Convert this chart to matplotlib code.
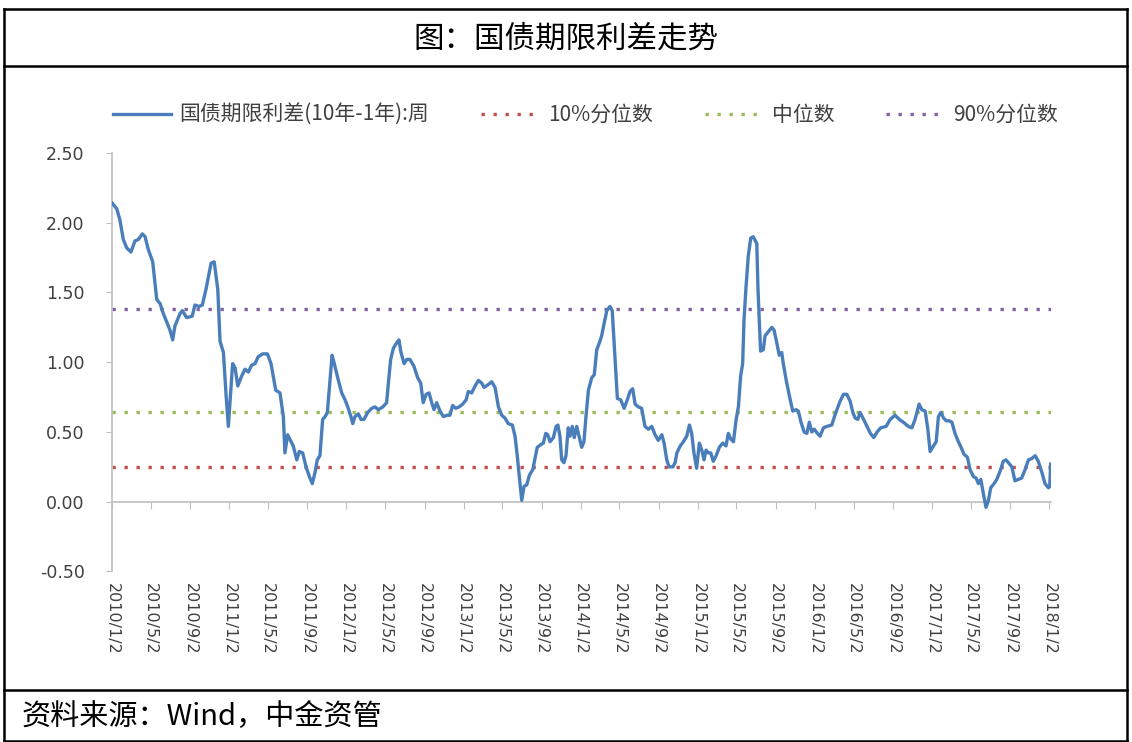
import matplotlib
matplotlib.use('Agg')
import matplotlib.pyplot as plt
import matplotlib.dates as mdates
from matplotlib.lines import Line2D
import numpy as np
import pandas as pd
from datetime import datetime

plt.rcParams['font.family'] = ['Noto Sans CJK SC', 'DejaVu Sans']

# 周数据: 自 2010/1/2 起的周序号, 以及对应的利差(%)
week = [0.0, 2.0, 3.4, 4.9, 6.4, 8.3, 10.1, 11.6, 13.4, 14.6, 16.0, 18.0, 19.8, 21.3, 22.7, 24.2,
        25.7, 26.9, 27.9, 30.2, 31.2, 33.1, 35.6, 36.8, 38.6, 40.1, 41.7, 44.0, 45.4, 47.0, 48.0,
        49.5, 50.7, 51.7, 52.4, 53.6, 54.7, 55.9, 57.6, 59.1, 60.6, 62.1, 63.6, 65.0, 67.0, 69.1,
        70.7, 72.8, 74.7, 76.2, 76.9, 78.1, 80.6, 82.2, 83.3, 84.8, 86.3, 87.8, 89.1, 90.3, 91.3,
        92.5, 93.7, 94.8, 95.8, 97.0, 97.9, 98.9, 100.4, 102.2, 103.7, 105.1, 106.3, 107.1, 108.1,
        109.6, 110.8, 112.1, 113.8, 115.6, 117.0, 118.5, 120.5, 122.2, 123.1, 124.0, 125.2, 126.7,
        127.7, 128.6, 130.0, 131.2, 132.6, 134.4, 136.0, 137.4, 138.5, 139.8, 141.1, 142.3, 143.3,
        144.5, 146.0, 147.5, 149.0, 150.4, 151.6, 153.0, 154.5, 156.1, 157.6, 158.6, 160.1, 161.6,
        163.1, 164.6, 165.6, 167.5, 169.0, 170.5, 172.0, 173.5, 174.9, 176.4, 178.2, 179.4, 180.4,
        181.3, 182.4, 183.4, 184.6, 185.8, 187.3, 188.3, 189.3, 190.9, 192.0, 193.1, 194.0, 195.0,
        196.5, 197.7, 198.5, 199.4, 200.2, 201.2, 202.1, 203.1, 203.9, 204.9, 205.8, 206.9, 207.9,
        209.1, 210.1, 211.0, 212.1, 213.6, 214.7, 215.8, 217.0, 218.0, 219.1, 220.3, 221.7, 222.7,
        223.9, 225.0, 226.5, 228.0, 229.4, 230.6, 231.8, 232.9, 234.3, 235.8, 237.3, 238.8, 240.3,
        241.8, 243.2, 244.8, 245.8, 247.0, 248.0, 249.7, 250.7, 251.5, 253.0, 254.4, 255.9, 257.1,
        258.1, 259.1, 260.3, 261.5, 262.6, 263.6, 264.5, 265.5, 266.6, 267.7, 269.0, 270.4, 271.9,
        273.4, 274.4, 275.5, 276.7, 277.9, 278.9, 279.9, 280.8, 281.4, 282.3, 283.3, 284.4, 285.5,
        287.1, 287.6, 288.2, 288.8, 290.0, 290.8, 291.8, 293.8, 294.8, 296.0, 297.1, 298.2, 298.9,
        300.1, 301.6, 303.1, 304.6, 305.6, 306.8, 308.2, 309.4, 310.5, 311.6, 312.7, 314.1, 315.3,
        316.8, 318.3, 320.5, 321.7, 323.0, 324.2, 325.7, 327.2, 328.7, 329.9, 330.9, 332.1, 333.1,
        334.7, 336.2, 337.7, 339.2, 340.7, 342.3, 344.7, 346.5, 348.7, 350.6, 352.4, 354.6, 356.2,
        357.6, 358.4, 359.4, 360.6, 362.1, 363.3, 364.3, 365.8, 367.0, 368.0, 369.1, 370.3, 371.5,
        372.9, 374.0, 375.4, 376.9, 378.1, 379.4, 380.9, 382.1, 383.6, 384.8, 385.8, 386.9, 388.0,
        389.2, 390.3, 391.3, 392.8, 394.0, 395.5, 396.9, 398.1, 399.2, 400.7, 402.1, 403.6, 405.1,
        406.6, 408.1, 409.6, 411.1, 412.5, 414.1, 415.5, 417.0, 417.6, 418.0]
spread = [2.14, 2.10, 2.02, 1.88, 1.82, 1.79, 1.87, 1.88, 1.92, 1.90, 1.81, 1.72, 1.45, 1.42, 1.35, 1.29,
          1.23, 1.16, 1.26, 1.35, 1.37, 1.32, 1.33, 1.41, 1.40, 1.41, 1.52, 1.71, 1.72, 1.52, 1.15,
          1.07, 0.76, 0.54, 0.71, 0.99, 0.96, 0.83, 0.90, 0.95, 0.93, 0.98, 0.99, 1.04, 1.06, 1.06,
          0.99, 0.80, 0.78, 0.61, 0.35, 0.48, 0.40, 0.30, 0.36, 0.35, 0.25, 0.18, 0.13, 0.21, 0.30,
          0.33, 0.59, 0.61, 0.64, 0.87, 1.05, 0.99, 0.89, 0.78, 0.73, 0.67, 0.61, 0.56, 0.61,
          0.63, 0.59, 0.59, 0.64, 0.67, 0.68, 0.66, 0.68, 0.71, 0.87, 1.02, 1.10, 1.14,
          1.16, 1.07, 0.99, 1.02, 1.02, 0.97, 0.89, 0.85, 0.71, 0.77, 0.78, 0.71, 0.66,
          0.71, 0.65, 0.61, 0.62, 0.62, 0.69, 0.67, 0.68, 0.70, 0.73, 0.79, 0.78, 0.83,
          0.87, 0.85, 0.82, 0.84, 0.86, 0.82, 0.68, 0.62, 0.60, 0.56, 0.55, 0.47, 0.33,
          0.18, 0.01, 0.11, 0.12, 0.19, 0.23, 0.31, 0.39, 0.41, 0.42, 0.49, 0.48, 0.43,
          0.46, 0.54, 0.55, 0.47, 0.30, 0.28, 0.33, 0.53, 0.47, 0.54, 0.46, 0.54, 0.47,
          0.39, 0.43, 0.61, 0.80, 0.89, 0.91, 1.09, 1.14, 1.19, 1.28, 1.37, 1.40, 1.37,
          1.04, 0.74, 0.73, 0.67, 0.73, 0.79, 0.81, 0.70, 0.68, 0.67, 0.54, 0.52, 0.54,
          0.48, 0.44, 0.48, 0.42, 0.30, 0.25, 0.25, 0.28, 0.35, 0.40, 0.43, 0.47, 0.55,
          0.49, 0.35, 0.24, 0.42, 0.37, 0.30, 0.37, 0.35, 0.35, 0.29, 0.33, 0.39, 0.42,
          0.40, 0.49, 0.45, 0.43, 0.59, 0.68, 0.90, 0.99, 1.30, 1.54, 1.76, 1.89, 1.90,
          1.85, 1.54, 1.30, 1.08, 1.09, 1.19, 1.21, 1.25, 1.23, 1.14, 1.05, 1.07, 0.99,
          0.88, 0.76, 0.65, 0.66, 0.65, 0.57, 0.50, 0.49, 0.57, 0.50, 0.52, 0.49, 0.47,
          0.53, 0.54, 0.55, 0.61, 0.67, 0.72, 0.77, 0.77, 0.72, 0.64, 0.60, 0.59, 0.64,
          0.59, 0.54, 0.49, 0.46, 0.50, 0.53, 0.54, 0.59, 0.62, 0.59, 0.57, 0.54, 0.53,
          0.59, 0.64, 0.70, 0.66, 0.65, 0.52, 0.36, 0.40, 0.43, 0.61, 0.64, 0.60, 0.58,
          0.58, 0.57, 0.49, 0.43, 0.39, 0.34, 0.32, 0.23, 0.18, 0.17, 0.13, 0.16, 0.06,
          -0.04, 0.01, 0.10, 0.13, 0.16, 0.22, 0.29, 0.30, 0.28, 0.25, 0.15, 0.16, 0.17,
          0.23, 0.30, 0.31, 0.33, 0.29, 0.21, 0.13, 0.10, 0.11, 0.27]

# 分位数水平
p10 = 0.25
p50 = 0.64
p90 = 1.38

start = pd.Timestamp('2010-01-02')
dates = start + pd.to_timedelta(np.array(week) * 7, unit='D')
x = mdates.date2num(dates)

# 每四个月一个刻度: 2010/1/2 ... 2018/1/2
tick_dates = [datetime(y, m, 2) for y in range(2010, 2019) for m in (1, 5, 9) if datetime(y, m, 2) <= datetime(2018, 1, 2)]
tick_labels = [f'{d.year}/{d.month}/2' for d in tick_dates]
tick_x = mdates.date2num(tick_dates)

fig = plt.figure(figsize=(11.32, 7.42), dpi=100)
ax = fig.add_axes([0.0992, 0.2298, 0.8295, 0.564])

blue = '#4a7ebb'
ax.plot(x, spread, color=blue, lw=2.4, label='国债期限利差(10年-1年):周', zorder=3)
ax.axhline(p10, color='#c0504d', lw=2.4, ls=(0, (1, 2.6)), label='10%分位数')
ax.axhline(p50, color='#9bbb59', lw=2.4, ls=(0, (1, 2.6)), label='中位数')
ax.axhline(p90, color='#8064a2', lw=2.4, ls=(0, (1, 2.6)), label='90%分位数')

ax.set_xlim(mdates.date2num(start), mdates.date2num(pd.Timestamp('2018-01-08')))
ax.set_ylim(-0.5, 2.5)
ax.set_yticks(np.arange(-0.5, 2.51, 0.5))
ax.set_yticklabels([f'{v:.2f}' for v in np.arange(-0.5, 2.51, 0.5)])

grey = '#bfbfbf'
txt = '#404040'
for s in ('top', 'right', 'bottom'):
    ax.spines[s].set_visible(False)
ax.spines['left'].set_color(grey)
ax.spines['left'].set_linewidth(1.2)
ax.tick_params(axis='y', direction='out', length=4, color=grey, pad=16, labelsize=12.5, labelcolor=txt)
ax.set_xticks(tick_x)
ax.set_xticklabels(tick_labels, rotation=-90, ha='center', va='top', fontsize=11.5, color=txt,
                   family='DejaVu Sans')
ax.tick_params(axis='x', length=0, pad=8)
for lab in ax.get_yticklabels():
    lab.set_family('DejaVu Sans')

# 零轴: 带刻度线, 不带标签
sec = ax.secondary_xaxis(1 / 6)
sec.set_xticks(tick_x)
sec.tick_params(axis='x', direction='out', length=5, color=grey, labelbottom=False, labeltop=False)
sec.spines['bottom'].set_visible(True)
sec.spines['bottom'].set_color(grey)
sec.spines['bottom'].set_linewidth(1.2)

fig.legend(loc='center', bbox_to_anchor=(0.517, 0.845), ncol=4, frameon=False, fontsize=15,
           handlelength=2.8, handletextpad=0.4, columnspacing=2.5, labelcolor=txt)

# 外框 / 标题栏 / 来源栏
L, R, T, B = 0.0035, 0.9956, 0.9879, 0.0013
yt, yb = 0.911, 0.0701
for xs, ys in [((L, R), (T, T)), ((L, R), (yt, yt)), ((L, R), (yb, yb)), ((L, R), (B, B)),
               ((L, L), (B, T)), ((R, R), (B, T))]:
    fig.add_artist(Line2D(xs, ys, color='black', lw=1.8, transform=fig.transFigure))

fig.text(0.5, 0.947, '图：国债期限利差走势', ha='center', va='center', fontsize=22,
         fontweight='light', color='black')
fig.text(0.0194, 0.0335, '资料来源：Wind，中金资管', ha='left', va='center', fontsize=21,
         fontweight='light', color='black')

fig.savefig('out.png', dpi=100)
